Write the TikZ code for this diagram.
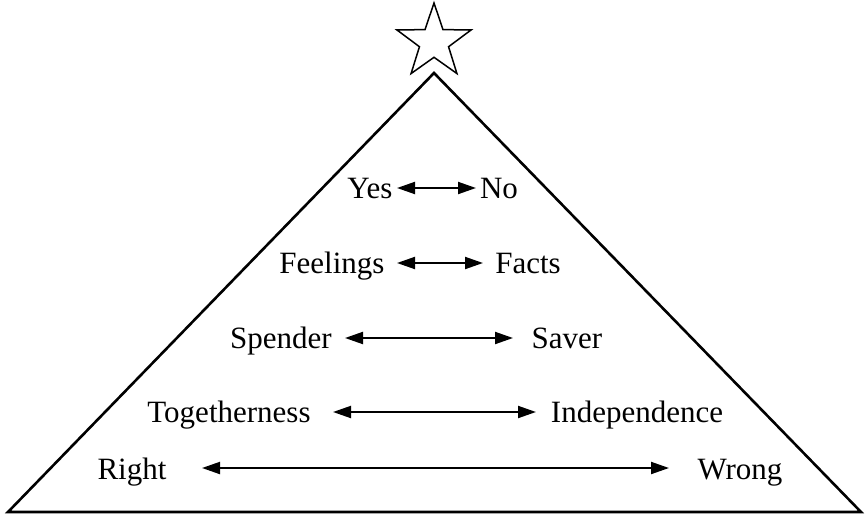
\documentclass[tikz,border=0pt]{standalone}
\usepackage{fontspec}
\setmainfont{Liberation Serif}
\usetikzlibrary{arrows.meta,shapes.geometric}
\begin{document}
\begin{tikzpicture}[x=1pt,y=-1pt,
  lbl/.style={anchor=base,inner sep=0pt,font=\fontsize{31}{36}\selectfont},
  dbl/.style={line width=2pt,{Triangle[length=18pt,width=12pt]}-{Triangle[length=18pt,width=12pt]}},
  frame/.style={line width=2.6pt,line join=miter}]
\useasboundingbox (0,0) rectangle (866,514);
% pyramid
\coordinate (apex) at (434,73);
\coordinate (bl) at (8,512);
\coordinate (br) at (861,512);
\draw[frame] (bl) -- (apex) -- (br) -- cycle;
% star
\node[star,star points=5,star point ratio=2.55,draw,line width=1.5pt,minimum size=78pt,inner sep=0pt] (star) at (434,42) {};
% rows
\node[lbl] (yes) at (370,198) {Yes};
\node[lbl] (no) at (499,198) {No};
\coordinate (a1l) at (397,188); \coordinate (a1r) at (476,188);
\draw[dbl] (a1l) -- (a1r);

\node[lbl] (feel) at (332,273) {Feelings};
\node[lbl] (facts) at (528,273) {Facts};
\coordinate (a2l) at (397,263); \coordinate (a2r) at (483,263);
\draw[dbl] (a2l) -- (a2r);

\node[lbl] (spend) at (281,348) {Spender};
\node[lbl] (saver) at (567,348) {Saver};
\coordinate (a3l) at (345,338); \coordinate (a3r) at (513,338);
\draw[dbl] (a3l) -- (a3r);

\node[lbl] (tog) at (229,422) {Togetherness};
\node[lbl] (ind) at (637,422) {Independence};
\coordinate (a4l) at (333,412); \coordinate (a4r) at (536,412);
\draw[dbl] (a4l) -- (a4r);

\node[lbl] (right) at (132,479) {Right};
\node[lbl] (wrong) at (740,479) {Wrong};
\coordinate (a5l) at (202,468); \coordinate (a5r) at (669,468);
\draw[dbl] (a5l) -- (a5r);
\end{tikzpicture}
\end{document}
